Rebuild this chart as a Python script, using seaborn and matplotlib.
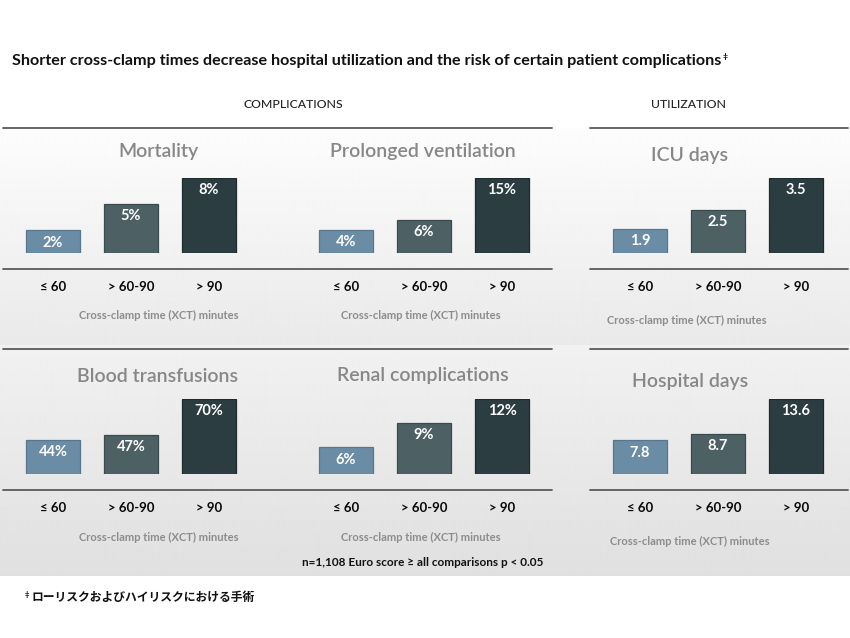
import numpy as np
import pandas as pd
import matplotlib
matplotlib.use("Agg")
import matplotlib.pyplot as plt
from matplotlib.lines import Line2D
import seaborn as sns

# ---------------- data ----------------
categories = ["≤ 60", "> 60-90", "> 90"]
panel_titles = ["Mortality", "Prolonged ventilation", "ICU days",
                "Blood transfusions", "Renal complications", "Hospital days"]
mortality = [2, 5, 8]
ventilation = [4, 6, 15]
icu_days = [1.9, 2.5, 3.5]
transfusions = [44, 47, 70]
renal = [6, 9, 12]
hospital_days = [7.8, 8.7, 13.6]
mortality_labels = ["2%", "5%", "8%"]
ventilation_labels = ["4%", "6%", "15%"]
icu_labels = ["1.9", "2.5", "3.5"]
transfusion_labels = ["44%", "47%", "70%"]
renal_labels = ["6%", "9%", "12%"]
hospital_labels = ["7.8", "8.7", "13.6"]

title = "Shorter cross-clamp times decrease hospital utilization and the risk of certain patient complications"
section_headers = ["COMPLICATIONS", "UTILIZATION"]
xlabel = "Cross-clamp time (XCT) minutes"
footer = "n=1,108 Euro score ≥ all comparisons p < 0.05"
footnote = "ローリスクおよびハイリスクにおける手術"

# ---------------- style ----------------
sns.set_theme(style="white")
plt.rcParams["font.family"] = ["Lato", "DejaVu Sans"]

W, H = 850, 638
fig = plt.figure(figsize=(W / 100, H / 100), dpi=100)
fig.patch.set_facecolor("white")


def fx(x):
    return x / W


def fy(y):
    return 1 - y / H


# background gradient
bg = fig.add_axes([0, 0, 1, 1], zorder=-10)
rows = np.ones(H)
for y in range(H):
    if 128 <= y < 345:
        rows[y] = 0.99 - (y - 128) / (345 - 128) * (0.99 - 0.915)
    elif 345 <= y < 576:
        rows[y] = 0.945 - (y - 345) / (576 - 345) * (0.945 - 0.878)
img = np.repeat(rows[:, None], 4, axis=1)
bg.imshow(img, cmap="gray", vmin=0, vmax=1, extent=[0, 1, 0, 1], aspect="auto",
          interpolation="bilinear")
bg.set_axis_off()

bar_colors = ["#6a8ca4", "#4d6064", "#2c3d42"]
edge_colors = ["#56778d", "#3a4a4e", "#1d2b2f"]

panels = [
    dict(vals=mortality, labels=mortality_labels, left=14, top=178, low=-0.6,
         tx=158, ty=151, lx=159, ly=315),
    dict(vals=ventilation, labels=ventilation_labels, left=307, top=178, low=-1.0,
         tx=423, ty=151, lx=421, ly=315),
    dict(vals=icu_days, labels=icu_labels, left=601, top=178, low=1.15,
         tx=690, ty=155, lx=687, ly=320),
    dict(vals=transfusions, labels=transfusion_labels, left=14, top=399, low=22,
         tx=158, ty=376, lx=159, ly=537),
    dict(vals=renal, labels=renal_labels, left=307, top=399, low=2.7,
         tx=423, ty=376, lx=421, ly=537),
    dict(vals=hospital_days, labels=hospital_labels, left=601, top=399, low=3.1,
         tx=690, ty=382, lx=690, ly=541),
]

AW, AH = 234, 75
for name, p in zip(panel_titles, panels):
    bottom = p["top"] + AH
    ax = fig.add_axes([fx(p["left"]), fy(bottom), AW / W, AH / H])
    ax.set_facecolor("none")
    df = pd.DataFrame({"cat": categories, "val": p["vals"]})
    sns.barplot(data=df, x="cat", y="val", hue="cat", palette=bar_colors,
                width=54 / 78, legend=False, ax=ax, saturation=1)
    for patch, ec in zip(ax.patches, edge_colors):
        patch.set_edgecolor(ec)
        patch.set_linewidth(0.9)
        if p["low"] < 0:
            h = patch.get_height()
            patch.set_y(p["low"])
            patch.set_height(h - p["low"])
    ax.set_xlim(-0.5, 2.5)
    ax.set_ylim(p["low"], max(p["vals"]))
    for i, (v, lab) in enumerate(zip(p["vals"], p["labels"])):
        ax.annotate(lab, (i, v), xytext=(0, -8.8), textcoords="offset points",
                    ha="center", va="center", color="white", fontsize=10.5,
                    fontweight="bold")
    for s in ax.spines.values():
        s.set_visible(False)
    ax.set_yticks([])
    ax.set_ylabel("")
    ax.tick_params(axis="x", length=0, pad=20.5, labelsize=9.5,
                   labelcolor="#0a0a0a")
    for t in ax.get_xticklabels():
        t.set_fontweight("bold")
    ax.set_xlabel(xlabel, fontsize=8, color="#8c8c8c", fontweight="bold")
    ax.xaxis.set_label_coords((p["lx"] - p["left"]) / AW, (bottom - p["ly"]) / AH)
    ax.xaxis.label.set_va("center")
    ax.text((p["tx"] - p["left"]) / AW, (bottom - p["ty"]) / AH, name,
            transform=ax.transAxes, ha="center", va="center", fontsize=14,
            color="#878787", fontweight="semibold")

# rules
line_kw = dict(color="#5a5a5a", lw=1.3)
for y in [128, 269, 349, 490]:
    fig.add_artist(Line2D([fx(3), fx(552)], [fy(y), fy(y)], **line_kw))
    fig.add_artist(Line2D([fx(590), fx(848)], [fy(y), fy(y)], **line_kw))

# texts
t = fig.text(fx(12), fy(61), title, fontsize=11.6, fontweight="bold",
             color="#111111", va="center", ha="left")
fig.canvas.draw()
bb = t.get_window_extent()
fig.text(bb.x1 / W + 0.001, fy(57), "‡", fontsize=6, fontweight="bold",
         color="#111111", va="center", ha="left")
fig.text(fx(293), fy(104), section_headers[0], fontsize=8.8, color="#222222",
         ha="center", va="center", fontweight="medium")
fig.text(fx(688), fy(104), section_headers[1], fontsize=8.8, color="#222222",
         ha="center", va="center", fontweight="medium")
fig.text(fx(423), fy(562), footer, fontsize=8.5, fontweight="bold",
         color="#111111", ha="center", va="center")
fig.text(fx(25), fy(594), "‡", fontsize=5.5, fontweight="bold",
         color="#111111", ha="left", va="center")
fig.text(fx(31.5), fy(598), footnote, fontsize=8.5, fontweight="bold",
         color="#111111", ha="left", va="center",
         family=["Noto Sans CJK JP", "DejaVu Sans"])

fig.savefig("out.png", dpi=100)
